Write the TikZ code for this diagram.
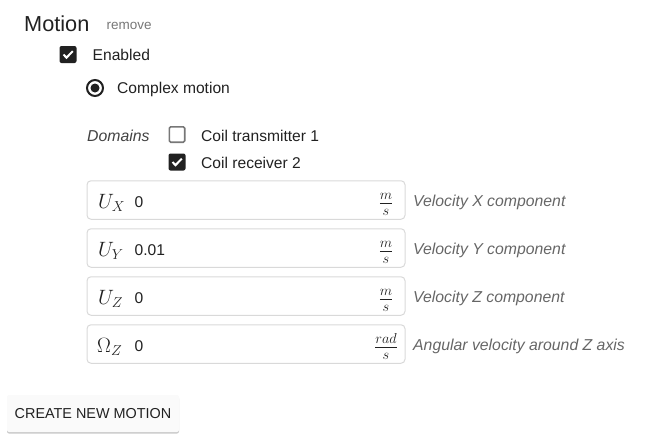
\documentclass[tikz,border=0pt]{standalone}
\usepackage{fontspec}
\setmainfont{Liberation Sans}
\usetikzlibrary{positioning, shadows}
\definecolor{ink}{HTML}{212121}
\definecolor{hint}{HTML}{666666}
\definecolor{faint}{HTML}{777777}
\definecolor{rim}{HTML}{D9D9D9}
\newcommand{\sz}[1]{\fontsize{#1}{#1}\selectfont}

\begin{document}
\begin{tikzpicture}[x=1pt, y=-1pt,
  txt/.style={anchor=base west, inner sep=0, text=ink, font=\sz{15.6}},
  hint/.style={txt, text=hint, font=\sz{15.8}\itshape},
  sym/.style={inner sep=0, text=ink, font=\sz{19.4}},
  field/.style={draw=rim, line width=1, rounded corners=4, minimum width=318, minimum height=38.5, inner sep=0},
  tick/.style={fill=ink, rounded corners=2, minimum size=17, inner sep=0},
  untick/.style={draw=faint, line width=1.6, rounded corners=1.5, minimum size=15.4, inner sep=0},
  checkline/.style={white, line width=2},
  btn/.style={fill=black!2, rounded corners=2, minimum width=172, minimum height=37, text=ink, font=\sz{14.4},
    drop shadow={shadow xshift=0pt, shadow yshift=-1.5pt, opacity=0.3, fill=black!70}}]
\useasboundingbox (0,0) rectangle (647,447);
% header
\node[txt, font=\sz{21.7}] (motion) at (24,31) {Motion};
\node[txt, text=faint, font=\sz{13.5}] (remove) at (106.5,29) {remove};
% enabled
\node[tick] (enabled) at (68,54.5) {};
\draw[checkline] ([shift={(-4.5,0)}]enabled.center) -- ([shift={(-1.5,3.2)}]enabled.center) -- ([shift={(4.8,-3.4)}]enabled.center);
\node[txt] (enabledtxt) at (92.5,60) {Enabled};
% complex motion
\node[circle, draw=ink, line width=2, minimum size=16, inner sep=0] (complex) at (95,88) {};
\fill[ink] (complex.center) circle (4.5);
\node[txt] (complextxt) at (117,93.5) {Complex motion};
% domains
\node[hint, text=ink!85] (domains) at (87,141.5) {Domains};
\node[untick] (coilone) at (177,134.5) {};
\node[txt] (coilonetxt) at (201,141.5) {Coil transmitter 1};
\node[tick] (coiltwo) at (177,162) {};
\draw[checkline] ([shift={(-4.5,0)}]coiltwo.center) -- ([shift={(-1.5,3.2)}]coiltwo.center) -- ([shift={(4.8,-3.4)}]coiltwo.center);
\node[txt] (coiltwotxt) at (201,168.5) {Coil receiver 2};
% fields
\node[field] (ux) at (246,200) {};
\node[sym, anchor=base west] (uxsym) at (98,208) {$U_X$};
\node[txt] (uxval) at (134.5,207.5) {0};
\node[sym, anchor=base] (uxunit) at (386,208) {$\frac{m}{s}$};
\node[hint] (uxtxt) at (413,206) {Velocity X component};
\node[field] (uy) at (246,248) {};
\node[sym, anchor=base west] (uysym) at (98,256) {$U_Y$};
\node[txt] (uyval) at (134.5,255.5) {0.01};
\node[sym, anchor=base] (uyunit) at (386,256) {$\frac{m}{s}$};
\node[hint] (uytxt) at (413,254) {Velocity Y component};
\node[field] (uz) at (246,296) {};
\node[sym, anchor=base west] (uzsym) at (98,304) {$U_Z$};
\node[txt] (uzval) at (134.5,303.5) {0};
\node[sym, anchor=base] (uzunit) at (386,304) {$\frac{m}{s}$};
\node[hint] (uztxt) at (413,302) {Velocity Z component};
\node[field] (oz) at (246,344) {};
\node[sym, anchor=base west] (ozsym) at (97,352) {$\Omega_Z$};
\node[txt] (ozval) at (134.5,351.5) {0};
\node[sym, anchor=base] (ozunit) at (386,352) {$\frac{rad}{s}$};
\node[hint] (oztxt) at (413,350) {Angular velocity around Z axis};
% button
\node[btn] (create) at (93,413.5) {CREATE NEW MOTION};
\end{tikzpicture}
\end{document}
